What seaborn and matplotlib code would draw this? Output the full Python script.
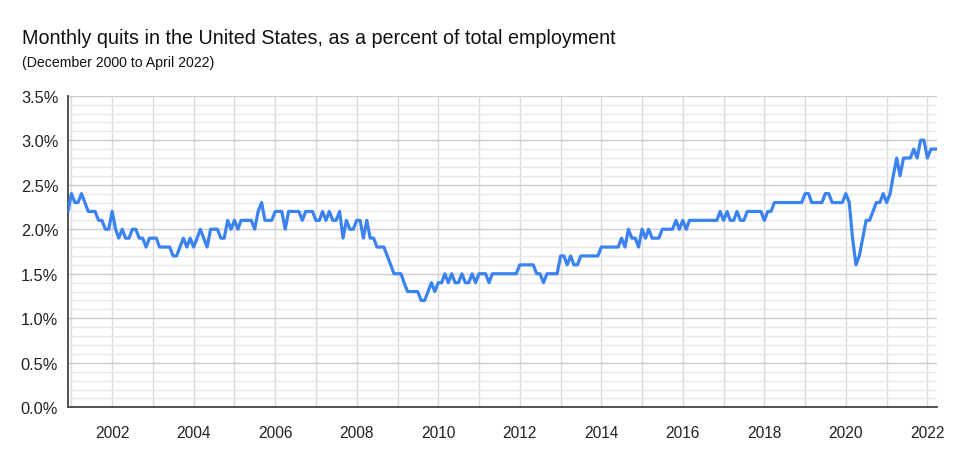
import pandas as pd
import seaborn as sns
import matplotlib.pyplot as plt
import matplotlib.dates as mdates
from matplotlib.ticker import MultipleLocator, FuncFormatter

sns.set_theme(style="white")
plt.rcParams['font.family'] = ['Liberation Sans', 'DejaVu Sans']

# monthly quits rate (% of total employment), Dec 2000 .. Apr 2022
first_month = "2000-12-01"
quits_rate = [
    2.2,                                                             # 2000 (Dec)
    2.4, 2.3, 2.3, 2.4, 2.3, 2.2, 2.2, 2.2, 2.1, 2.1, 2.0, 2.0,      # 2001
    2.2, 2.0, 1.9, 2.0, 1.9, 1.9, 2.0, 2.0, 1.9, 1.9, 1.8, 1.9,      # 2002
    1.9, 1.9, 1.8, 1.8, 1.8, 1.8, 1.7, 1.7, 1.8, 1.9, 1.8, 1.9,      # 2003
    1.8, 1.9, 2.0, 1.9, 1.8, 2.0, 2.0, 2.0, 1.9, 1.9, 2.1, 2.0,      # 2004
    2.1, 2.0, 2.1, 2.1, 2.1, 2.1, 2.0, 2.2, 2.3, 2.1, 2.1, 2.1,      # 2005
    2.2, 2.2, 2.2, 2.0, 2.2, 2.2, 2.2, 2.2, 2.1, 2.2, 2.2, 2.2,      # 2006
    2.1, 2.1, 2.2, 2.1, 2.2, 2.1, 2.1, 2.2, 1.9, 2.1, 2.0, 2.0,      # 2007
    2.1, 2.1, 1.9, 2.1, 1.9, 1.9, 1.8, 1.8, 1.8, 1.7, 1.6, 1.5,      # 2008
    1.5, 1.5, 1.4, 1.3, 1.3, 1.3, 1.3, 1.2, 1.2, 1.3, 1.4, 1.3,      # 2009
    1.4, 1.4, 1.5, 1.4, 1.5, 1.4, 1.4, 1.5, 1.4, 1.4, 1.5, 1.4,      # 2010
    1.5, 1.5, 1.5, 1.4, 1.5, 1.5, 1.5, 1.5, 1.5, 1.5, 1.5, 1.5,      # 2011
    1.6, 1.6, 1.6, 1.6, 1.6, 1.5, 1.5, 1.4, 1.5, 1.5, 1.5, 1.5,      # 2012
    1.7, 1.7, 1.6, 1.7, 1.6, 1.6, 1.7, 1.7, 1.7, 1.7, 1.7, 1.7,      # 2013
    1.8, 1.8, 1.8, 1.8, 1.8, 1.8, 1.9, 1.8, 2.0, 1.9, 1.9, 1.8,      # 2014
    2.0, 1.9, 2.0, 1.9, 1.9, 1.9, 2.0, 2.0, 2.0, 2.0, 2.1, 2.0,      # 2015
    2.1, 2.0, 2.1, 2.1, 2.1, 2.1, 2.1, 2.1, 2.1, 2.1, 2.1, 2.2,      # 2016
    2.1, 2.2, 2.1, 2.1, 2.2, 2.1, 2.1, 2.2, 2.2, 2.2, 2.2, 2.2,      # 2017
    2.1, 2.2, 2.2, 2.3, 2.3, 2.3, 2.3, 2.3, 2.3, 2.3, 2.3, 2.3,      # 2018
    2.4, 2.4, 2.3, 2.3, 2.3, 2.3, 2.4, 2.4, 2.3, 2.3, 2.3, 2.3,      # 2019
    2.4, 2.3, 1.9, 1.6, 1.7, 1.9, 2.1, 2.1, 2.2, 2.3, 2.3, 2.4,      # 2020
    2.3, 2.4, 2.6, 2.8, 2.6, 2.8, 2.8, 2.8, 2.9, 2.8, 3.0, 3.0,      # 2021
    2.8, 2.9, 2.9, 2.9,                                              # 2022 (Jan-Apr)
]

title = "Monthly quits in the United States, as a percent of total employment"
subtitle = "(December 2000 to April 2022)"

months = pd.date_range(first_month, periods=len(quits_rate), freq="MS")
df = pd.DataFrame({"month": months, "rate": quits_rate})

fig = plt.figure(figsize=(9.6, 4.64), dpi=100)
ax = fig.add_axes([0.0708, 0.12, 0.9057, 0.6716])

sns.lineplot(data=df, x="month", y="rate", color="#3b83f0", linewidth=2.3, ax=ax, zorder=3)

ax.set_xlim(months[0], months[-1])
ax.set_ylim(0, 3.5)
ax.set_xlabel("")
ax.set_ylabel("")

# y axis: labels every 0.5, light lines every 0.1
ax.yaxis.set_major_locator(MultipleLocator(0.5))
ax.yaxis.set_minor_locator(MultipleLocator(0.1))
ax.yaxis.set_major_formatter(FuncFormatter(lambda v, p: f"{v:.1f}%"))

# x axis: a line every year, label every 2 years
ax.xaxis.set_major_locator(mdates.YearLocator(2))
ax.xaxis.set_minor_locator(mdates.YearLocator(1))
ax.xaxis.set_major_formatter(mdates.DateFormatter("%Y"))

ax.set_axisbelow(True)
ax.grid(which="major", axis="y", color="#cccccc", linewidth=1)
ax.grid(which="minor", axis="y", color="#e8e8e8", linewidth=1)
ax.grid(which="both", axis="x", color="#d9d9d9", linewidth=1)

ax.tick_params(axis="x", which="major", direction="inout", length=10, width=1,
               color="#444444", labelsize=11.2, pad=8, labelcolor="#222222")
ax.tick_params(axis="x", which="minor", direction="inout", length=5, width=1, color="#444444")
ax.tick_params(axis="y", which="both", length=0, labelsize=11.8, pad=7, labelcolor="#222222")

for side in ["top", "right"]:
    ax.spines[side].set_visible(False)
for side in ["left", "bottom"]:
    ax.spines[side].set_color("#444444")
    ax.spines[side].set_linewidth(1.3)

fig.text(22 / 960, 1 - 39 / 464, title, fontsize=14.2, va="center", ha="left", color="#111111")
fig.text(22 / 960, 1 - 63 / 464, subtitle, fontsize=10.2, va="center", ha="left", color="#111111")

fig.savefig("out.png", dpi=100)
